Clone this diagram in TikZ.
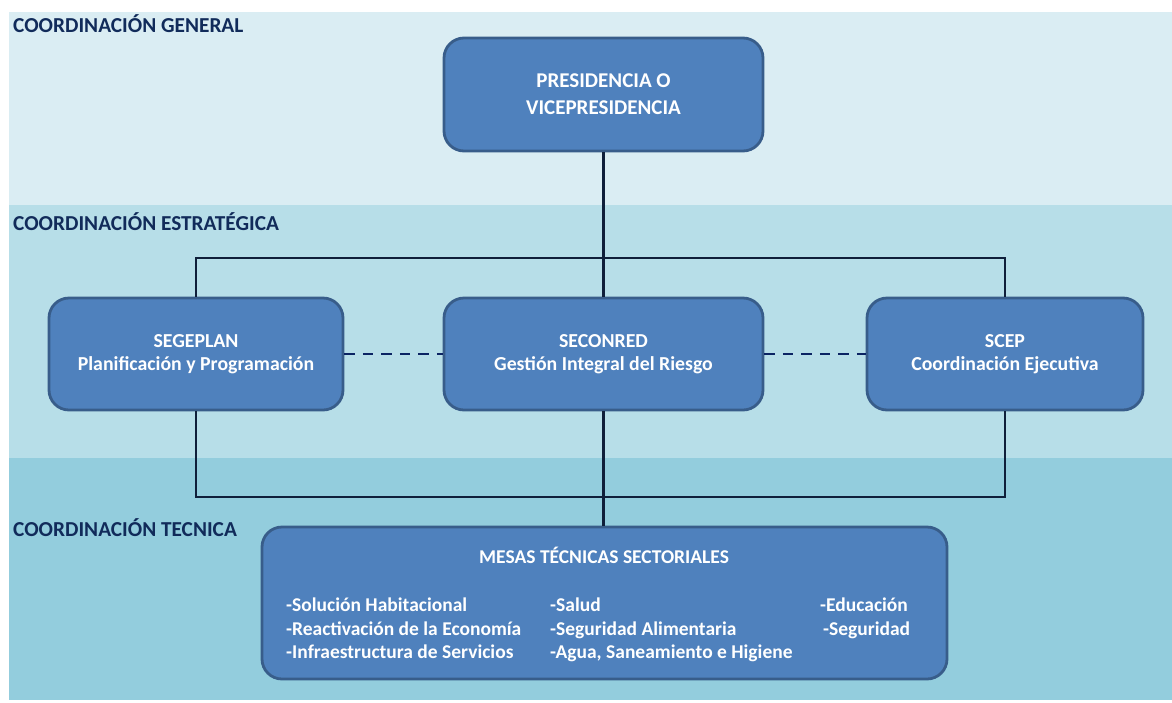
\documentclass[tikz,border=0pt]{standalone}
\usepackage{fontspec}
\setmainfont{Carlito}
\definecolor{bandA}{HTML}{DAEDF3}
\definecolor{bandB}{HTML}{B7DEE8}
\definecolor{bandC}{HTML}{93CDDD}
\definecolor{boxfill}{HTML}{4F81BD}
\definecolor{boxline}{HTML}{385D8A}
\definecolor{connline}{HTML}{0F1F3A}
\definecolor{dashline}{HTML}{0B2463}
\definecolor{labeltext}{HTML}{112B5A}
\begin{document}
\begin{tikzpicture}[x=1pt,y=-1pt,
  orgbox/.style={draw=boxline, line width=2.8pt, fill=boxfill, rounded corners=20pt,
    text=white, font=\bfseries\fontsize{19.8}{23}\selectfont, align=center, inner sep=0pt},
  levellabel/.style={anchor=base west, text=labeltext, font=\bfseries\fontsize{21.3}{25}\selectfont, inner sep=0pt},
  itemtext/.style={anchor=base west, text=white, font=\bfseries\fontsize{19.5}{23}\selectfont, inner sep=0pt},
  conn/.style={draw=connline, line width=2.2pt},
  dashconn/.style={draw=dashline, line width=2.6pt, dash pattern=on 10.5pt off 8pt}
]
\useasboundingbox (0,0) rectangle (1172,702);
\fill[white] (0,0) rectangle (1172,702);
% bands
\fill[bandA] (9,12) rectangle (1172,205);
\fill[bandB] (9,205) rectangle (1172,458);
\fill[bandC] (9,458) rectangle (1172,700);
% level labels
\node[levellabel] (lgen) at (13,32) {COORDINACIÓN GENERAL};
\node[levellabel] (lest) at (13,230) {COORDINACIÓN ESTRATÉGICA};
\node[levellabel] (ltec) at (13,536) {COORDINACIÓN TECNICA};
% boxes
\node[orgbox, font=\bfseries\fontsize{21}{23}\selectfont, minimum width=319pt, minimum height=113pt] (pres) at (603.5,94.5)
  {PRESIDENCIA O\\[4pt]VICEPRESIDENCIA};
\node[orgbox, minimum width=294pt, minimum height=112pt] (segeplan) at (196,354)
  {SEGEPLAN\\Planificación y Programación};
\node[orgbox, minimum width=319pt, minimum height=112pt] (seconred) at (603.5,354)
  {SECONRED\\Gestión Integral del Riesgo};
\node[orgbox, minimum width=276pt, minimum height=112pt] (scep) at (1005,354)
  {SCEP\\Coordinación Ejecutiva};
\node[orgbox, minimum width=685pt, minimum height=152pt] (mesas) at (604.5,603) {};
% mesas contents
\node[itemtext] (mtitle) at (479,563) {MESAS TÉCNICAS SECTORIALES};
\node[itemtext] (m11) at (286,611) {-Solución Habitacional};
\node[itemtext] (m12) at (286,635) {-Reactivación de la Economía};
\node[itemtext] (m13) at (286,658) {-Infraestructura de Servicios};
\node[itemtext] (m21) at (550,611) {-Salud};
\node[itemtext] (m22) at (550,635) {-Seguridad Alimentaria};
\node[itemtext] (m23) at (550,658) {-Agua, Saneamiento e Higiene};
\node[itemtext] (m31) at (820,611) {-Educación};
\node[itemtext] (m32) at (823,635) {-Seguridad};
% connector corners
\coordinate (tl) at (196,258);
\coordinate (tr) at (1005,258);
\coordinate (bl) at (196,497);
\coordinate (br) at (1005,497);
% connectors
\draw[conn] (pres.south) -- (seconred.north);
\draw[conn] (segeplan.north) -- (tl) -- (tr) -- (scep.north);
\draw[conn] (segeplan.south) -- (bl) -- (br) -- (scep.south);
\draw[conn] (seconred.south) -- (seconred.south |- mesas.north);
\draw[dashconn] (segeplan.east) -- (seconred.west);
\draw[dashconn] (seconred.east) -- (scep.west);
\end{tikzpicture}
\end{document}
